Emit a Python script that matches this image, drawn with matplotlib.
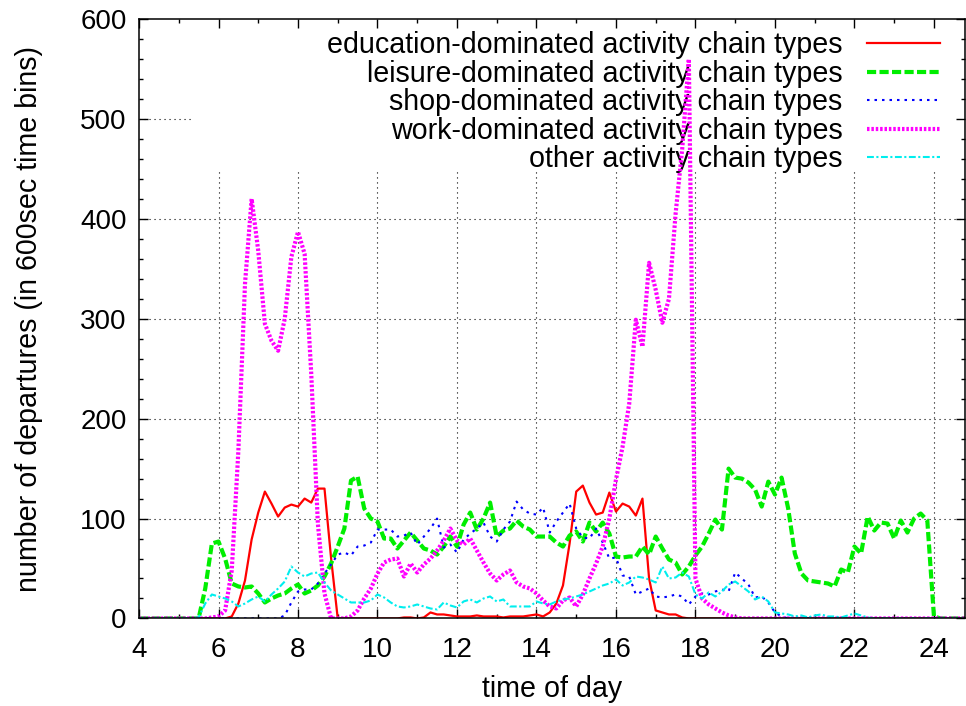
import numpy as np
import matplotlib.pyplot as plt
from matplotlib.ticker import MultipleLocator

plt.rcParams['font.family'] = ['Liberation Sans', 'DejaVu Sans']

# departures per 10 minute bin, first bin at 4:00 (6 values per hour)
n_bins = 126
time_of_day = 4 + np.arange(n_bins) / 6

education = [
    0, 0, 0, 0, 0, 0,            # 4h
    0, 0, 0, 0, 0, 0,            # 5h
    0, 0, 2, 15, 38, 79,         # 6h
    106, 127, 115, 102, 111, 114,
    112, 120, 116, 130, 130, 60,
    0, 0, 0, 0, 0, 0,            # 9h
    0, 0, 0, 0, 1, 1,
    0, 1, 6, 4, 4, 3,            # 11h
    2, 2, 2, 3, 2, 2,
    2, 1, 2, 2, 2, 3,            # 13h
    4, 2, 6, 15, 33, 75,
    127, 133, 116, 104, 106, 126,  # 15h
    107, 115, 112, 103, 120, 40,
    8, 6, 4, 4, 1, 0,            # 17h
    0, 0, 0, 0, 0, 0,
    0, 0, 0, 0, 0, 0,            # 19h
    0, 0, 0, 0, 0, 0,
    0, 0, 0, 0, 0, 0,            # 21h
    0, 0, 0, 0, 0, 0,
    0, 0, 0, 0, 0, 0,            # 23h
    0, 0, 0, 0, 0, 0,
]

leisure = [
    0, 0, 0, 0, 0, 0,            # 4h
    0, 0, 0, 0, 30, 75,
    77, 60, 35, 32, 31, 32,      # 6h
    25, 16, 20, 23, 25, 30,
    34, 25, 28, 33, 42, 55,      # 8h
    72, 90, 138, 142, 110, 100,
    97, 80, 80, 70, 78, 86,      # 10h
    78, 70, 68, 64, 72, 82,
    72, 94, 106, 89, 100, 116,   # 12h
    82, 88, 90, 98, 92, 89,
    82, 82, 82, 76, 72, 83,      # 14h
    87, 77, 96, 87, 96, 85,
    62, 61, 62, 62, 72, 64,      # 16h
    82, 70, 59, 56, 44, 52,
    63, 72, 85, 99, 89, 150,     # 18h
    141, 140, 136, 129, 112, 137,
    124, 141, 110, 65, 45, 38,   # 20h
    37, 36, 35, 32, 49, 46,
    72, 65, 102, 88, 96, 95,     # 22h
    80, 98, 86, 100, 105, 98,
    2, 0, 0, 0, 0, 0,            # 24h
]

shop = [
    0, 0, 0, 0, 0, 0,            # 4h
    0, 0, 0, 0, 0, 0,
    0, 0, 0, 0, 0, 0,            # 6h
    0, 0, 0, 0, 3, 16,
    27, 29, 29, 35, 45, 54,      # 8h
    64, 66, 63, 72, 73, 76,
    89, 89, 89, 82, 83, 86,      # 10h
    74, 82, 90, 100, 71, 74,
    66, 79, 85, 90, 96, 82,      # 12h
    77, 89, 97, 117, 109, 105,
    104, 111, 86, 97, 106, 115,  # 14h
    90, 81, 80, 90, 76, 60,
    61, 43, 42, 24, 27, 30,      # 16h
    22, 21, 22, 24, 22, 14,
    22, 25, 24, 27, 29, 27,      # 18h
    46, 40, 34, 21, 22, 16,
    6, 2, 0, 0, 0, 0,            # 20h
    0, 0, 0, 0, 0, 0,
    0, 0, 0, 0, 0, 0,            # 22h
    0, 0, 0, 0, 0, 0,
    0, 0, 0, 0, 0, 0,            # 24h
]

work = [
    0, 0, 0, 0, 0, 0,            # 4h
    0, 0, 0, 0, 0, 1,
    2, 8, 48, 168, 335, 420,     # 6h
    368, 295, 278, 268, 300, 362,
    387, 365, 245, 95, 25, 0,    # 8h
    0, 0, 2, 8, 20, 30,
    45, 56, 59, 60, 42, 55,      # 10h
    46, 54, 60, 68, 78, 90,
    78, 74, 80, 68, 56, 45,      # 12h
    38, 44, 48, 36, 32, 30,
    25, 18, 12, 10, 18, 21,      # 14h
    12, 24, 40, 55, 72, 100,
    139, 172, 215, 299, 272, 356,  # 16h
    329, 296, 320, 405, 470, 560,
    40, 20, 14, 10, 6, 3,        # 18h
    1, 0, 0, 0, 0, 0,
    0, 0, 0, 0, 0, 0,            # 20h
    0, 0, 0, 0, 0, 0,
    0, 0, 0, 0, 0, 0,            # 22h
    0, 0, 0, 0, 0, 0,
    0, 0, 0, 0, 0, 0,            # 24h
]

other = [
    0, 0, 0, 0, 0, 0,            # 4h
    0, 0, 0, 1, 15, 24,
    22, 20, 17, 12, 15, 19,      # 6h
    22, 17, 24, 30, 37, 52,
    46, 42, 45, 46, 36, 28,      # 8h
    24, 20, 16, 16, 16, 18,
    24, 21, 16, 12, 11, 12,      # 10h
    14, 12, 10, 9, 16, 13,
    11, 17, 19, 16, 20, 22,      # 12h
    17, 19, 12, 12, 12, 12,
    17, 15, 14, 17, 19, 20,      # 14h
    22, 24, 27, 30, 33, 35,
    39, 33, 36, 42, 41, 39,      # 16h
    36, 52, 40, 41, 46, 42,
    24, 20, 26, 22, 27, 34,      # 18h
    37, 32, 27, 19, 22, 17,
    6, 5, 4, 2, 3, 1,            # 20h
    3, 4, 2, 2, 1, 3,
    5, 3, 1, 0, 0, 0,            # 22h
    0, 0, 0, 0, 0, 0,
    0, 0, 0, 0, 0, 0,            # 24h
]

labels = ['education-dominated activity chain types',
          'leisure-dominated activity chain types',
          'shop-dominated activity chain types',
          'work-dominated activity chain types',
          'other activity chain types']

fig = plt.figure(figsize=(9.66, 7.06), dpi=100)
ax = fig.add_axes([0.1439, 0.124, 0.855, 0.849])

ax.plot(time_of_day, education, color='#ff0000', lw=1.6, label=labels[0])
ax.plot(time_of_day, leisure, color='#00ee00', lw=3.0, ls=(0, (2.2, 0.8)), label=labels[1])
ax.plot(time_of_day, shop, color='#0000ff', lw=1.5, ls=(0, (1.2, 2.4)), label=labels[2])
ax.plot(time_of_day, work, color='#ff00ff', lw=3.0, ls=(0, (0.6, 0.45)), label=labels[3])
ax.plot(time_of_day, other, color='#00eeee', lw=1.5, ls=(0, (3.3, 1.2, 1.0, 1.2)), label=labels[4])

ax.set_xlim(4, 24.78)
ax.set_ylim(0, 600)
ax.xaxis.set_major_locator(MultipleLocator(2))
ax.xaxis.set_minor_locator(MultipleLocator(1))
ax.yaxis.set_major_locator(MultipleLocator(100))
ax.yaxis.set_minor_locator(MultipleLocator(20))
ax.tick_params(which='both', direction='in', top=True, right=True, width=1, labelsize=20)
ax.tick_params(which='major', length=6.5)
ax.tick_params(which='minor', length=3.2)
ax.tick_params(axis='x', which='major', pad=13)
ax.tick_params(axis='y', which='major', pad=9)
for s in ax.spines.values():
    s.set_linewidth(1.1)

# gnuplot style grid, kept clear of the key
key_bottom = 448
key_left = 5.3
grid_style = dict(colors='black', linestyles=(0, (1, 3.5)), linewidth=0.8, zorder=0.5)
ax.vlines(np.arange(6, 25, 2), 0, key_bottom, **grid_style)
ax.hlines(np.arange(100, 500, 100), 4, 24.78, **grid_style)
ax.hlines([500], 4, key_left, **grid_style)

ax.set_xlabel('time of day', fontsize=20.6, labelpad=9)
ax.set_ylabel('number of departures (in 600sec time bins)', fontsize=20.6, labelpad=27)

leg = ax.legend(loc='upper right', bbox_to_anchor=(0.9697, 0.980), borderaxespad=0,
                borderpad=0, markerfirst=False, frameon=False, handlelength=2.55,
                handletextpad=0.85, labelspacing=0.02, fontsize=20.6)
leg.set_zorder(1.5)

fig.savefig('out.png', dpi=100)
